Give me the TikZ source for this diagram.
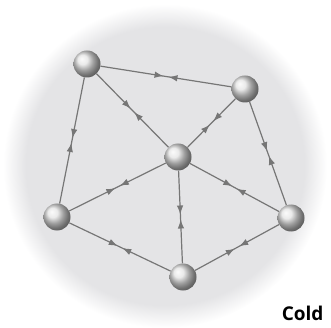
\documentclass[tikz,border=0pt]{standalone}
\usepackage{fontspec}
\setsansfont{Open Sans}
\usepackage{tikz}
\usetikzlibrary{arrows.meta,decorations.markings}
\definecolor{discgray}{HTML}{E4E4E6}
\definecolor{linkgray}{HTML}{767676}
\pgfdeclareradialshading{softdisc}{\pgfpoint{0bp}{0bp}}{color(0bp)=(discgray); color(21.5bp)=(discgray); color(25bp)=(white); color(50bp)=(white)}

\begin{document}
\begin{tikzpicture}[x=1pt, y=-1pt, ball/.style={circle, minimum size=27pt, inner sep=0pt, shading=ball, ball color=gray!22}, link/.style={draw=linkgray, line width=1.2pt, postaction={decorate}, decoration={markings, mark=at position 0.5 with {\pgftransformxshift{-2.5pt}\arrow[linkgray]{Latex[length=9pt,width=6.5pt]}}, mark=at position 0.5 with {\pgftransformxshift{2.5pt}\arrowreversed[linkgray]{Latex[length=9pt,width=6.5pt]}}}}]
\useasboundingbox (0,0) rectangle (331,328);
\shade[shading=softdisc] (165,166) circle (162pt);
\node[ball] (nw) at (87,64) {};
\node[ball] (ne) at (245,89) {};
\node[ball] (hub) at (178,157) {};
\node[ball] (w) at (57,217) {};
\node[ball] (e) at (291,218) {};
\node[ball] (s) at (183,277) {};
\draw[link] (nw) -- (ne);
\draw[link] (nw) -- (hub);
\draw[link] (nw) -- (w);
\draw[link] (ne) -- (hub);
\draw[link] (ne) -- (e);
\draw[link] (hub) -- (w);
\draw[link] (hub) -- (e);
\draw[link] (hub) -- (s);
\draw[link] (w) -- (s);
\draw[link] (e) -- (s);
\node[anchor=base east, font=\sffamily\bfseries\fontsize{19}{22}\selectfont] (cold) at (327,320) {Cold};
\end{tikzpicture}
\end{document}
